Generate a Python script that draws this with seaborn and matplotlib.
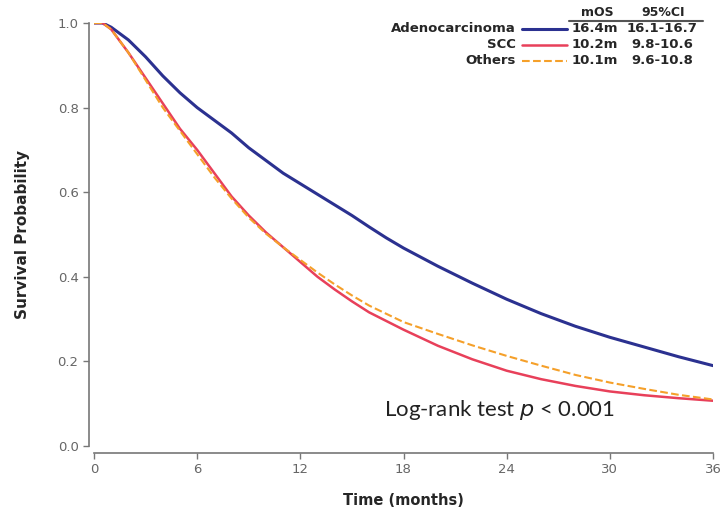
import numpy as np
import pandas as pd
import matplotlib
matplotlib.use('Agg')
import matplotlib.pyplot as plt
import seaborn as sns
from matplotlib.lines import Line2D

# 读图估计的生存曲线数据
time_adeno = [0, 0.5, 1, 2, 3, 4, 5, 6, 7, 8, 9, 10, 11, 12, 13, 14, 15, 16, 17, 18,
              20, 22, 24, 26, 28, 30, 32, 34, 36]
surv_adeno = [1.0, 1.0, 0.99, 0.96, 0.92, 0.875, 0.835, 0.80, 0.77, 0.74, 0.705, 0.675,
              0.645, 0.62, 0.595, 0.57, 0.545, 0.518, 0.492, 0.468, 0.425, 0.385, 0.347,
              0.313, 0.283, 0.257, 0.234, 0.211, 0.19]

time_scc = [0, 0.5, 1, 2, 3, 4, 5, 6, 7, 8, 9, 10, 11, 12, 13, 14, 15, 16, 18,
            20, 22, 24, 26, 28, 30, 32, 34, 36]
surv_scc = [1.0, 1.0, 0.985, 0.93, 0.87, 0.81, 0.75, 0.70, 0.645, 0.59, 0.545, 0.505,
            0.47, 0.435, 0.40, 0.37, 0.342, 0.316, 0.275, 0.237, 0.205, 0.178, 0.158,
            0.142, 0.129, 0.12, 0.113, 0.107]

time_others = [0, 0.5, 1, 2, 3, 4, 5, 6, 7, 8, 9, 10, 11, 12, 13, 14, 15, 16, 18,
               20, 22, 24, 26, 28, 30, 32, 34, 36]
surv_others = [1.0, 1.0, 0.985, 0.93, 0.865, 0.80, 0.745, 0.69, 0.635, 0.585, 0.54, 0.502,
               0.47, 0.44, 0.41, 0.382, 0.356, 0.332, 0.293, 0.265, 0.238, 0.213, 0.19,
               0.168, 0.15, 0.135, 0.121, 0.11]

groups = ['Adenocarcinoma', 'SCC', 'Others']
mos = ['16.4m', '10.2m', '10.1m']
ci = ['16.1-16.7', '9.8-10.6', '9.6-10.8']
x_ticks = [0, 6, 12, 18, 24, 30, 36]
y_ticks = [0.0, 0.2, 0.4, 0.6, 0.8, 1.0]

colors = {'Adenocarcinoma': '#2b3190', 'SCC': '#e8405a', 'Others': '#f5a02a'}
widths = {'Adenocarcinoma': 2.2, 'SCC': 1.8, 'Others': 1.5}
styles = {'Adenocarcinoma': '-', 'SCC': '-', 'Others': '--'}

df = pd.concat([
    pd.DataFrame({'time': time_adeno, 'surv': surv_adeno, 'group': 'Adenocarcinoma'}),
    pd.DataFrame({'time': time_scc, 'surv': surv_scc, 'group': 'SCC'}),
    pd.DataFrame({'time': time_others, 'surv': surv_others, 'group': 'Others'}),
])

sns.set_theme(style='ticks')
plt.rcParams['font.family'] = ['DejaVu Sans']

W, H = 720, 519
fig = plt.figure(figsize=(W / 100, H / 100), dpi=100)
ax = fig.add_axes([94 / W, (H - 446) / H, (713 - 94) / W, (446 - 23) / H])

for g in groups:
    sub = df[df['group'] == g]
    sns.lineplot(data=sub, x='time', y='surv', ax=ax, color=colors[g],
                 linewidth=widths[g], linestyle=styles[g], legend=False)

ax.set_xlim(0, 36)
ax.set_ylim(0, 1)
ax.set_xticks(x_ticks)
ax.set_yticks(y_ticks)
ax.set_xticklabels([str(t) for t in x_ticks])
ax.set_yticklabels([f'{v:.1f}' for v in y_ticks])
ax.tick_params(colors='#777777', labelcolor='#666666', labelsize=9.5, length=4, width=1)

sns.despine(ax=ax)
ax.spines['left'].set_position(('outward', 3.6))
ax.spines['bottom'].set_position(('outward', 5))
ax.spines['left'].set_bounds(0, 1)
ax.spines['bottom'].set_bounds(0, 36)
for s in ['left', 'bottom']:
    ax.spines[s].set_color('#777777')
    ax.spines[s].set_linewidth(1.2)

ax.set_xlabel('Time (months)', fontsize=10.5, fontweight='bold', labelpad=12)
ax.set_ylabel('Survival Probability', fontsize=11, fontweight='bold', labelpad=20)

ax.text((384 - 94) / (713 - 94), (446 - 410) / (446 - 23),
        'Log-rank test $\\it{p}$ < 0.001', transform=ax.transAxes,
        fontsize=16, family=['Lato', 'DejaVu Sans'], color='#222222',
        ha='left', va='center')


# 图例表格（像素坐标 -> figure 坐标）
def fx(px):
    return px / W


def fy(py):
    return 1 - py / H


fig.text(fx(597), fy(13), 'mOS', ha='center', va='center', fontsize=9, fontweight='bold')
fig.text(fx(663), fy(13), '95%CI', ha='center', va='center', fontsize=9, fontweight='bold')
fig.add_artist(Line2D([fx(569), fx(703)], [fy(21), fy(21)], color='#555555', lw=1.5))

rows_y = [29, 45, 61]
for g, m, c, yy in zip(groups, mos, ci, rows_y):
    fig.text(fx(516), fy(yy), g, ha='right', va='center', fontsize=9.5, fontweight='bold')
    fig.add_artist(Line2D([fx(522), fx(567)], [fy(yy), fy(yy)], color=colors[g],
                          lw=widths[g], linestyle=styles[g]))
    fig.text(fx(572), fy(yy), m, ha='left', va='center', fontsize=9.5, fontweight='bold')
    fig.text(fx(662), fy(yy), c, ha='center', va='center', fontsize=9.5, fontweight='bold')

fig.savefig('out.png', dpi=100)
